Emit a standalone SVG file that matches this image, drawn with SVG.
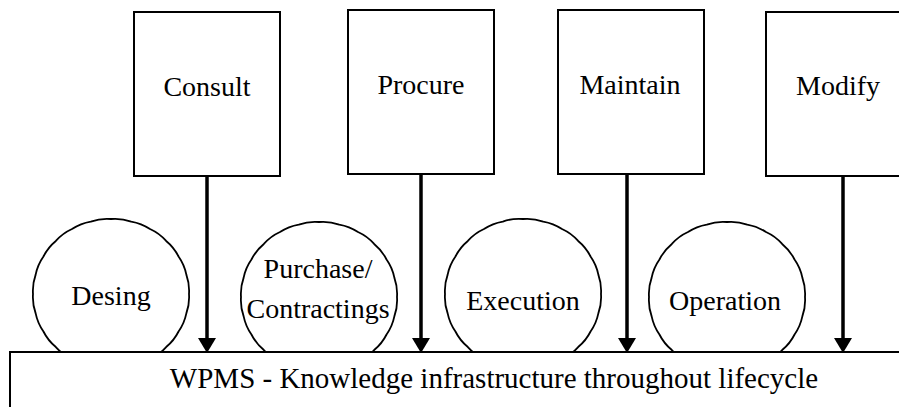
<svg xmlns="http://www.w3.org/2000/svg" xmlns:xlink="http://www.w3.org/1999/xlink" width="899" height="407" viewBox="0 0 899 407">
  <style>
    .box { fill: #ffffff; stroke: #000000; stroke-width: 2; }
    .phase { fill: #ffffff; stroke: #000000; stroke-width: 1.8; }
    .label { font-family: "Liberation Serif", "Times New Roman", serif; font-size: 28px; fill: #000000; text-anchor: middle; }
    .base-label { font-size: 29px; }
    .flow { stroke: #000000; stroke-width: 3.5; fill: none; }
    .head { fill: #000000; stroke: none; }
  </style>
  <defs>
    <!-- lightly scalloped circle outline, centred on the origin -->
    <path id="scallop" d="M78,0 A48,48 0 0 1 75.34,19.41 A48,48 0 0 1 67.55,37.5 A48,48 0 0 1 55.15,53.03 A48,48 0 0 1 39,64.95 A48,48 0 0 1 20.19,72.44 A48,48 0 0 1 0,75 A48,48 0 0 1 -20.19,72.44 A48,48 0 0 1 -39,64.95 A48,48 0 0 1 -55.15,53.03 A48,48 0 0 1 -67.55,37.5 A48,48 0 0 1 -75.34,19.41 A48,48 0 0 1 -78,0 A48,48 0 0 1 -75.34,-19.41 A48,48 0 0 1 -67.55,-37.5 A48,48 0 0 1 -55.15,-53.03 A48,48 0 0 1 -39,-64.95 A48,48 0 0 1 -20.19,-72.44 A48,48 0 0 1 0,-75 A48,48 0 0 1 20.19,-72.44 A48,48 0 0 1 39,-64.95 A48,48 0 0 1 55.15,-53.03 A48,48 0 0 1 67.55,-37.5 A48,48 0 0 1 75.34,-19.41 A48,48 0 0 1 78,0 Z"/>
  </defs>

  <rect width="899" height="407" fill="#ffffff"/>

  <!-- activity boxes -->
  <g id="consult">
    <rect class="box" x="134" y="12" width="146" height="164"/>
    <text class="label" x="207" y="96">Consult</text>
  </g>
  <g id="procure">
    <rect class="box" x="348" y="10" width="146" height="164"/>
    <text class="label" x="421" y="94">Procure</text>
  </g>
  <g id="maintain">
    <rect class="box" x="558" y="10" width="146" height="164"/>
    <text class="label" x="630" y="94">Maintain</text>
  </g>
  <g id="modify">
    <rect class="box" x="766" y="12" width="146" height="164"/>
    <text class="label" x="838" y="95">Modify</text>
  </g>

  <!-- lifecycle phases -->
  <g id="desing">
    <use xlink:href="#scallop" class="phase" transform="translate(111,294)"/>
    <text class="label" x="111" y="305">Desing</text>
  </g>
  <g id="purchase">
    <use xlink:href="#scallop" class="phase" transform="translate(319,297)"/>
    <text class="label" x="318" y="278">Purchase/</text>
    <text class="label" x="318" y="318">Contractings</text>
  </g>
  <g id="execution">
    <use xlink:href="#scallop" class="phase" transform="translate(523,294)"/>
    <text class="label" x="523" y="310">Execution</text>
  </g>
  <g id="operation">
    <use xlink:href="#scallop" class="phase" transform="translate(727,297)"/>
    <text class="label" x="725" y="310">Operation</text>
  </g>

  <!-- knowledge infrastructure base -->
  <g id="wpms">
    <rect class="box" x="10" y="352" width="980" height="80"/>
    <text class="label base-label" x="494" y="388">WPMS - Knowledge infrastructure throughout lifecycle</text>
  </g>

  <!-- connectors -->
  <g id="connectors">
    <line class="flow" x1="207" y1="176" x2="207" y2="338"/>
    <path class="head" d="M198,338 L216,338 L207,353 Z"/>
    <line class="flow" x1="421" y1="174" x2="421" y2="338"/>
    <path class="head" d="M412,338 L430,338 L421,353 Z"/>
    <line class="flow" x1="627" y1="174" x2="627" y2="338"/>
    <path class="head" d="M618,338 L636,338 L627,353 Z"/>
    <line class="flow" x1="843" y1="176" x2="843" y2="338"/>
    <path class="head" d="M834,338 L852,338 L843,353 Z"/>
  </g>
</svg>
